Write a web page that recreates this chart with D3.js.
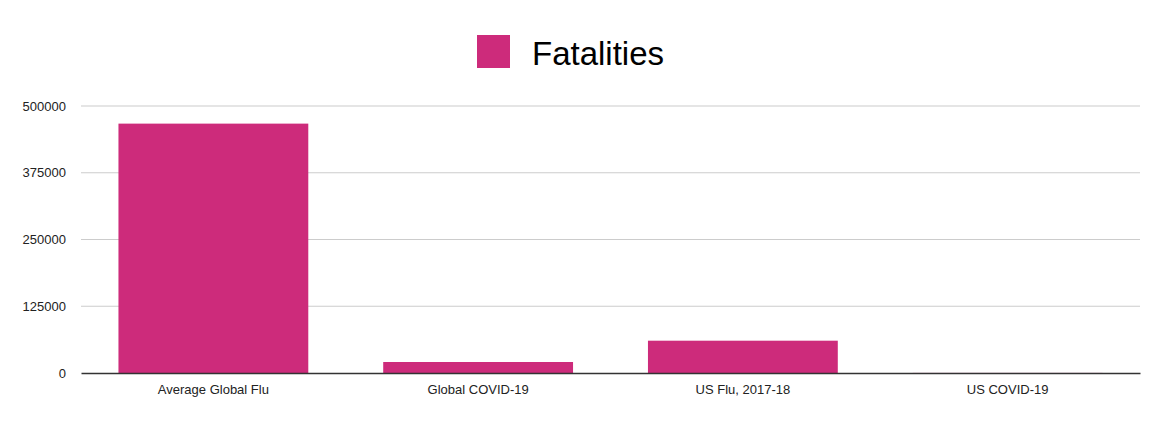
<!DOCTYPE html>
<html>
<head>
<meta charset="utf-8">
<script src="https://cdn.jsdelivr.net/npm/d3@7"></script>
<style>
  body { margin: 0; background: #fff; }
  svg { display: block; font-family: "Liberation Sans", Arial, Helvetica, sans-serif; }
</style>
</head>
<body>
<svg width="1160" height="431"></svg>
<script>
// data
let categories = ['Average Global Flu', 'Global COVID-19', 'US Flu, 2017-18', 'US COVID-19'];
let fatalities = [467000, 20600, 60500, 150];
let yTicks = [0, 125000, 250000, 375000, 500000];
let seriesName = 'Fatalities';

let barColor = '#cd2b7b';

let svg = d3.select('svg');
let margin = { left: 81, right: 20, top: 106, bottom: 58 };
let width = 1160 - margin.left - margin.right;
let height = 431 - margin.top - margin.bottom;

let x = d3.scaleBand()
  .domain(categories)
  .range([0, width])
  .paddingInner(0.283)
  .paddingOuter(0.1415);

let y = d3.scaleLinear()
  .domain([0, 500000])
  .range([height, 0]);

let g = svg.append('g')
  .attr('transform', `translate(${margin.left}, ${margin.top})`);

// gridlines
g.append('g')
  .selectAll('line')
  .data(yTicks.filter(d => d > 0))
  .join('line')
    .attr('x1', 0)
    .attr('x2', width)
    .attr('y1', d => y(d))
    .attr('y2', d => y(d))
    .attr('stroke', '#cccccc')
    .attr('stroke-width', 1.2);

// y labels
let yAxis = g.append('g')
  .call(d3.axisLeft(y).tickValues(yTicks).tickSize(0).tickPadding(15).tickFormat(d3.format('d')));
yAxis.select('.domain').remove();
yAxis.selectAll('text')
  .attr('font-size', 13)
  .attr('fill', '#222')
  .attr('font-family', '"Liberation Sans", Arial, sans-serif');

// bars
g.append('g')
  .selectAll('rect')
  .data(categories)
  .join('rect')
    .attr('x', d => x(d))
    .attr('width', x.bandwidth())
    .attr('y', (d, i) => y(fatalities[i]))
    .attr('height', (d, i) => height - y(fatalities[i]))
    .attr('fill', barColor);

// x axis
let xAxis = g.append('g')
  .attr('transform', `translate(0, ${height})`)
  .call(d3.axisBottom(x).tickSize(0).tickPadding(12));
xAxis.select('.domain')
  .attr('stroke', '#333')
  .attr('stroke-width', 1.3);
xAxis.selectAll('text')
  .attr('font-size', 13)
  .attr('fill', '#222')
  .attr('font-family', '"Liberation Sans", Arial, sans-serif');

// legend
let legend = svg.append('g')
  .attr('transform', 'translate(477, 35)');
legend.append('rect')
  .attr('width', 33)
  .attr('height', 33)
  .attr('fill', barColor);
legend.append('text')
  .attr('x', 55)
  .attr('y', 30)
  .attr('font-size', 33)
  .attr('fill', '#000')
  .text(seriesName);
</script>
</body>
</html>
